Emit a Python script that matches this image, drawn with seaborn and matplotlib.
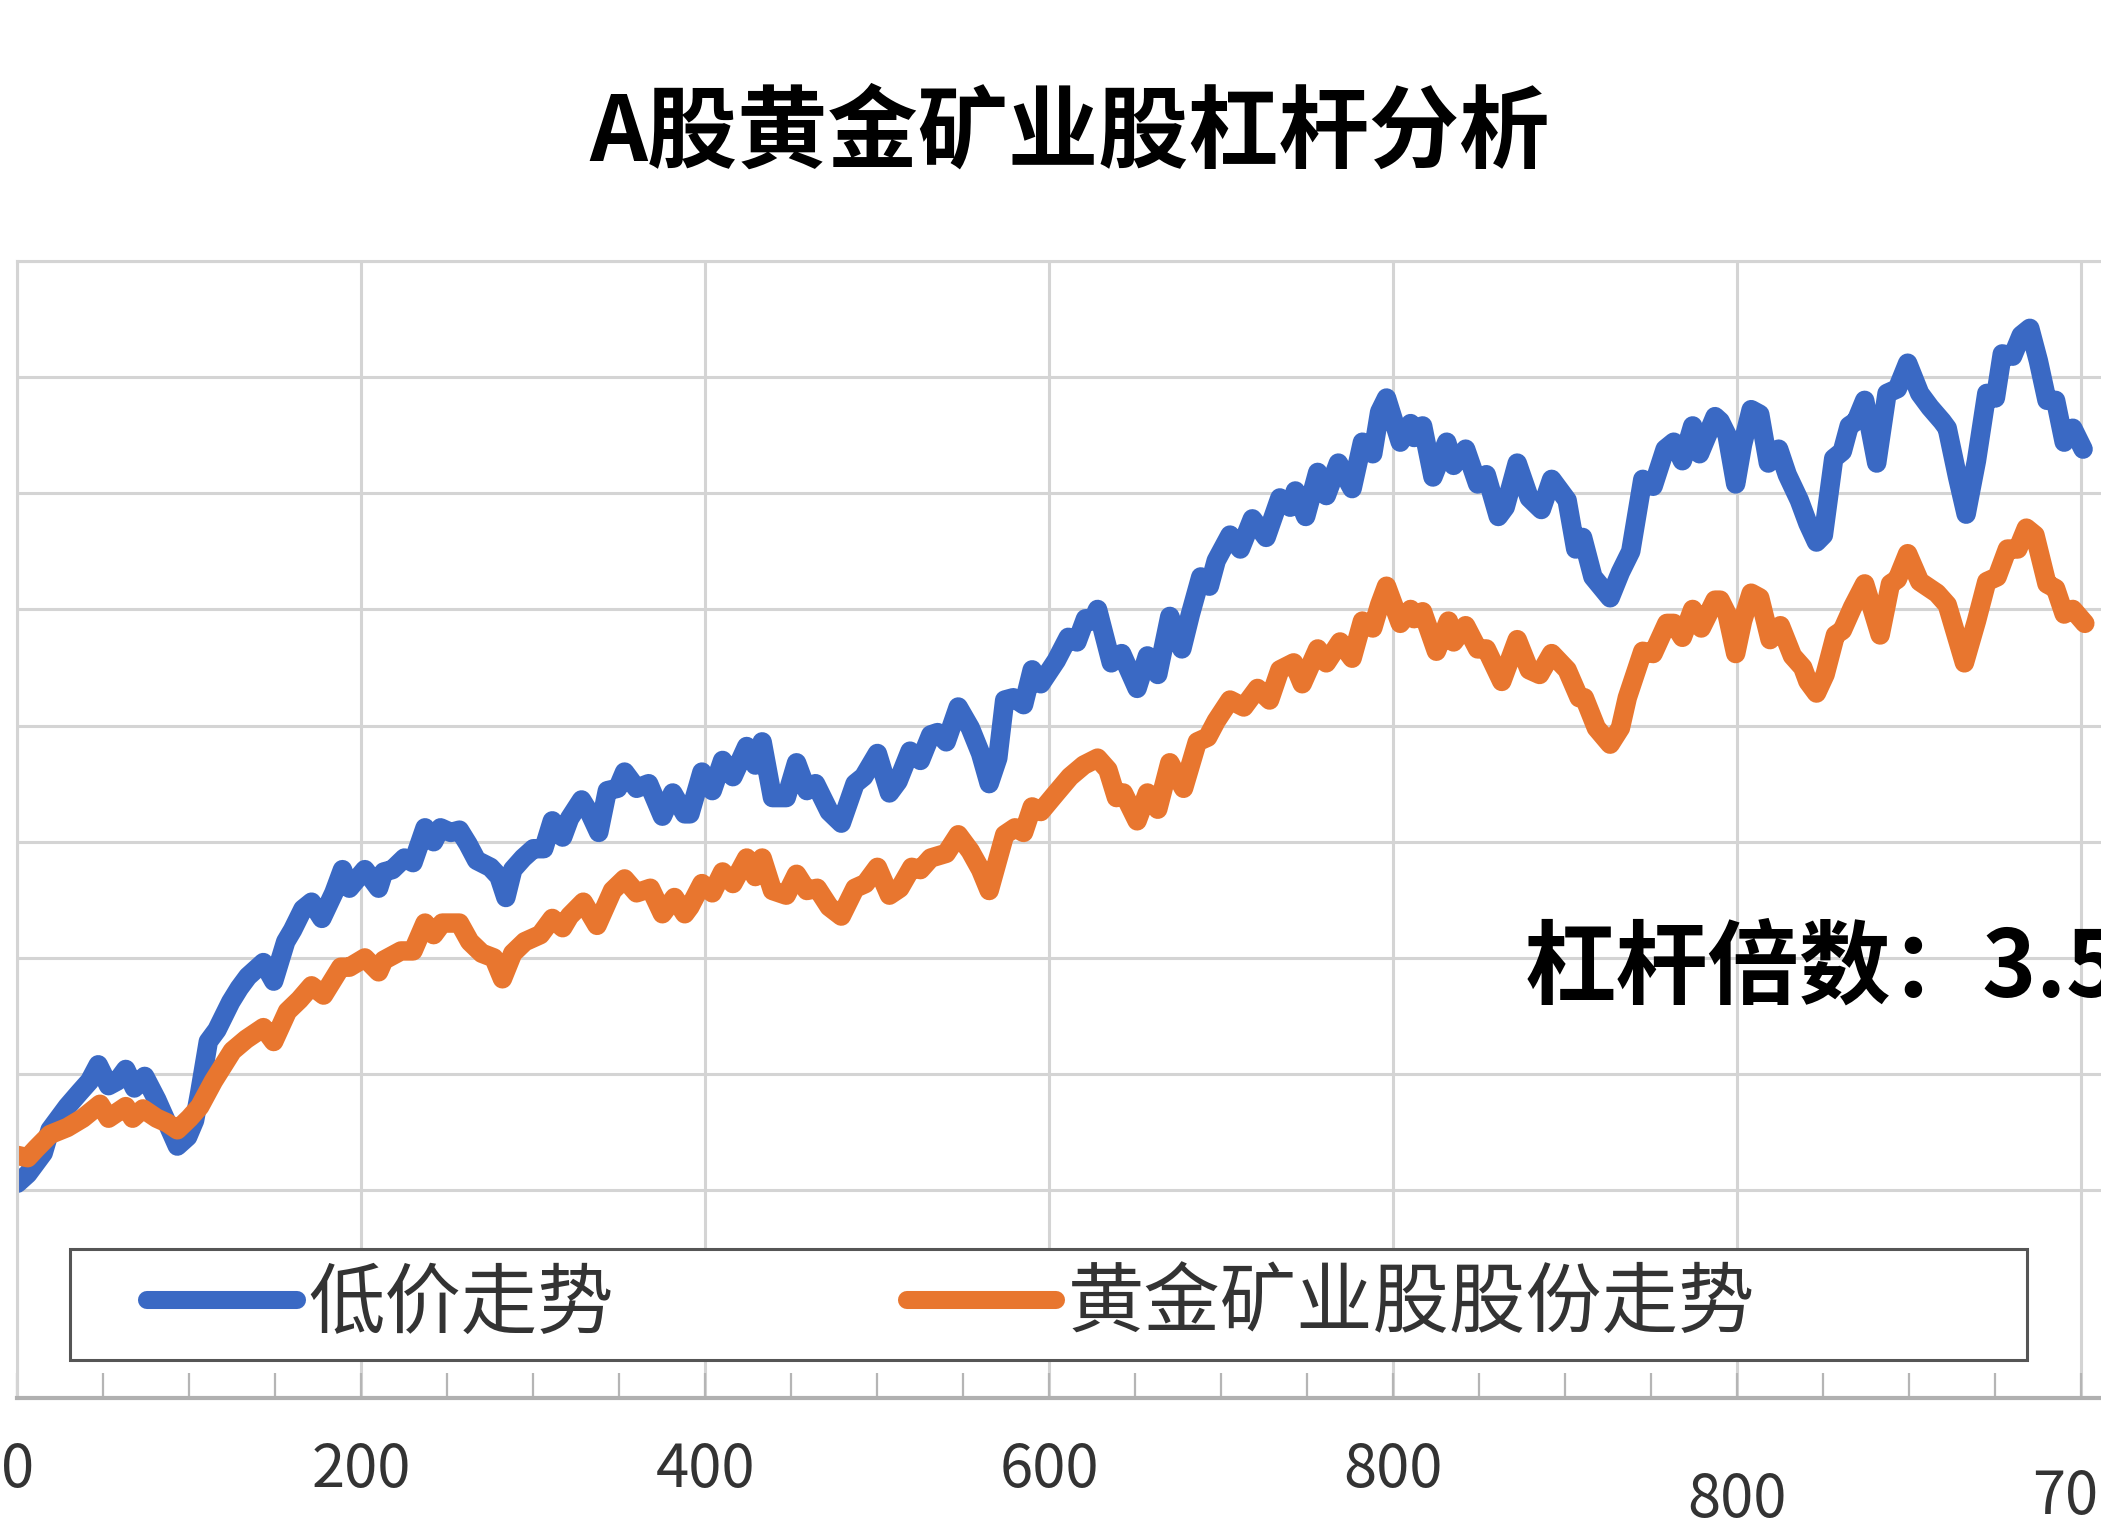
import pandas as pd
import numpy as np
import matplotlib.pyplot as plt
from matplotlib.patches import Rectangle
import seaborn as sns

# ---- data ----
days_low = [0, 6, 9, 15, 19, 29, 36, 42, 47, 53, 58, 63, 68, 74, 81, 87, 93, 99, 103, 106,
            111, 116, 124, 129, 134, 143, 149, 156, 160, 166, 171, 177, 184, 189,
            193, 202, 210, 213, 218, 225, 230, 237, 242, 246, 252, 257, 262, 267, 275, 280,
            284, 288, 294, 300, 306, 311, 317, 321, 328, 333, 338, 343, 349, 353, 360, 367,
            375, 381, 388,
            391, 398, 404, 410, 416, 424, 429, 433, 439, 447, 453, 459, 464, 472, 479, 487,
            492, 500, 507, 512, 519, 525, 531, 535, 540, 547, 554, 560, 565, 570, 574, 579,
            585, 590,
            595, 604, 611, 616, 621, 625, 628, 636, 642, 651, 657, 663, 670, 677, 682, 688,
            693, 697, 705, 711, 718, 726, 734, 740, 743, 749, 756, 761, 768, 776, 782, 788,
            792, 796, 804, 810, 812, 817, 823, 831, 835, 842, 849, 854, 861, 865, 872, 879,
            886, 892, 901, 906, 910, 916, 926, 932, 938, 945, 951, 958, 963, 968, 974, 978,
            987,
            990, 994, 999, 1003, 1008, 1013, 1018, 1024, 1029, 1036, 1041, 1046, 1050, 1056,
            1061, 1065, 1069, 1074, 1081, 1087, 1093, 1099, 1106, 1112, 1119, 1122, 1128,
            1133, 1139, 1145, 1150, 1154, 1160, 1165, 1170, 1175, 1180, 1185, 1190, 1195, 1201]
price_low = [1.03, 1.07, 1.10, 1.16, 1.26, 1.36, 1.42, 1.47, 1.54, 1.45, 1.47, 1.52, 1.44,
             1.49, 1.39, 1.29, 1.19, 1.23, 1.30, 1.42, 1.64, 1.69, 1.81, 1.87, 1.92, 1.98,
             1.90, 2.07, 2.12, 2.21, 2.24, 2.17, 2.28, 2.38,
             2.30, 2.38, 2.30, 2.37, 2.38, 2.43, 2.41, 2.56, 2.50, 2.56, 2.54, 2.55, 2.49,
             2.42, 2.39, 2.35, 2.26, 2.38, 2.43, 2.47, 2.47, 2.59, 2.52, 2.60, 2.68, 2.62,
             2.54, 2.72, 2.73, 2.80, 2.73, 2.75, 2.61, 2.71, 2.62,
             2.62, 2.80, 2.72, 2.85, 2.78, 2.91, 2.83, 2.93, 2.69, 2.69, 2.84, 2.72, 2.75,
             2.63, 2.58, 2.75, 2.78, 2.88, 2.71, 2.76, 2.89, 2.85, 2.96, 2.97, 2.93, 3.08,
             2.99, 2.88, 2.75, 2.86, 3.11, 3.12, 3.09, 3.24,
             3.18, 3.28, 3.38, 3.36, 3.46, 3.45, 3.50, 3.27, 3.31, 3.16, 3.30, 3.22, 3.47,
             3.33, 3.48, 3.64, 3.60, 3.71, 3.82, 3.76, 3.89, 3.81, 3.98, 3.94, 4.01, 3.90,
             4.09, 3.99, 4.13, 4.02, 4.22, 4.17,
             4.35, 4.41, 4.22, 4.30, 4.24, 4.29, 4.07, 4.22, 4.12, 4.19, 4.04, 4.08, 3.90,
             3.94, 4.13, 3.98, 3.93, 4.06, 3.97, 3.76, 3.81, 3.64, 3.55, 3.66, 3.75, 4.06,
             4.03, 4.19, 4.22, 4.14, 4.29, 4.17, 4.33,
             4.31, 4.25, 4.04, 4.21, 4.36, 4.34, 4.13, 4.19, 4.08, 3.97, 3.87, 3.79, 3.82,
             4.15, 4.18, 4.29, 4.31, 4.40, 4.13, 4.43, 4.45, 4.56, 4.43, 4.37, 4.31, 4.28,
             4.07, 3.91, 4.14, 4.43, 4.41, 4.60, 4.59, 4.68, 4.71, 4.57, 4.40, 4.40, 4.22,
             4.28, 4.19]

days_gold = [0, 6, 11, 19, 29, 38, 48, 53, 63, 67, 73, 81, 87, 93, 100, 106, 114, 125, 133,
             143, 149, 157, 164, 171, 178, 188,
             193, 202, 210, 213, 223, 230, 237, 242, 247, 257, 263, 270, 277, 282, 288, 295,
             304, 311, 317, 321, 329, 337, 346, 353, 360, 368, 375, 382, 388,
             391, 398, 404, 410, 416, 424, 429, 433, 439, 447, 453, 459, 465, 472, 479, 487,
             493, 500, 507, 513, 520, 525, 531, 540, 547, 554, 560, 565, 574, 580, 585, 590,
             595, 604, 612, 620, 628, 634, 639, 643, 651, 657, 663, 670, 678, 686, 692, 697,
             705, 713, 721, 728, 734, 742, 747, 756, 761, 769, 776, 782, 788,
             792, 796, 804, 810, 812, 817, 825, 832, 835, 842, 849, 854, 863, 872, 879, 885,
             892, 901, 908, 911, 918, 926, 932, 936, 945, 951, 959, 963, 968, 974, 979, 987,
             990, 994, 999, 1003, 1008, 1013, 1019, 1025, 1032, 1038, 1041, 1046, 1051,
             1057, 1061, 1067, 1074, 1083, 1089, 1093, 1099, 1106, 1116, 1122, 1132, 1139,
             1145, 1151, 1157, 1163, 1168, 1173, 1180, 1185, 1190, 1195, 1202]
price_gold = [1.15, 1.14, 1.18, 1.24, 1.27, 1.31, 1.37, 1.31, 1.36, 1.31, 1.35, 1.31, 1.29,
              1.26, 1.31, 1.36, 1.47, 1.60, 1.65, 1.70, 1.64, 1.77, 1.82, 1.88, 1.84, 1.96,
              1.96, 2.00, 1.94, 1.99, 2.03, 2.03, 2.15, 2.10, 2.15, 2.15, 2.07, 2.02, 2.00,
              1.91, 2.02, 2.07, 2.10, 2.17, 2.13, 2.18, 2.24, 2.14, 2.29, 2.34, 2.28, 2.30,
              2.19, 2.26, 2.19,
              2.22, 2.32, 2.28, 2.37, 2.32, 2.43, 2.35, 2.43, 2.29, 2.27, 2.36, 2.29, 2.30,
              2.22, 2.18, 2.30, 2.32, 2.39, 2.27, 2.30, 2.39, 2.38, 2.43, 2.45, 2.53, 2.46,
              2.38, 2.29, 2.53, 2.56, 2.54, 2.65,
              2.63, 2.71, 2.78, 2.83, 2.86, 2.81, 2.69, 2.71, 2.59, 2.71, 2.64, 2.84, 2.73,
              2.93, 2.95, 3.02, 3.11, 3.08, 3.16, 3.11, 3.24, 3.27, 3.18, 3.33, 3.27, 3.36,
              3.29, 3.45, 3.42,
              3.52, 3.60, 3.44, 3.50, 3.46, 3.49, 3.32, 3.45, 3.36, 3.43, 3.33, 3.33, 3.19,
              3.37, 3.24, 3.22, 3.31, 3.24, 3.12, 3.12, 2.99, 2.92, 2.99, 3.12, 3.32, 3.31,
              3.44, 3.44, 3.38, 3.50, 3.42, 3.54,
              3.54, 3.48, 3.31, 3.45, 3.57, 3.55, 3.37, 3.43, 3.30, 3.25, 3.19, 3.14, 3.22,
              3.39, 3.41, 3.51, 3.61, 3.39, 3.61, 3.63, 3.74, 3.62, 3.57, 3.52, 3.27, 3.45,
              3.62, 3.64, 3.76, 3.76, 3.85, 3.82, 3.61, 3.59, 3.48, 3.50, 3.44]

series_names = ["低价走势", "黄金矿业股股份走势"]
series_colors = ["#3a69c4", "#e8762f"]

xtick_pos = [0, 200, 400, 600, 800, 1000, 1200]
xtick_text = ["0", "200", "400", "600", "800", "800", "700"]
xtick_row = [-0.064, -0.064, -0.064, -0.064, -0.064, -0.090, -0.088]

title = "A股黄金矿业股杠杆分析"
note = "杠杆倍数：3.5"

# ---- styling ----
sns.set_theme(style="white")
plt.rcParams["font.family"] = ["Noto Sans CJK SC", "DejaVu Sans"]

fig = plt.figure(figsize=(21.01, 15.35), dpi=100)
ax = fig.add_axes([17.4 / 2101, 0.0893, 1 - 17.4 / 2101, 0.7407])

df_low = pd.DataFrame({"day": days_low, "price": price_low})
df_gold = pd.DataFrame({"day": days_gold, "price": price_gold})

for df, name, col in zip([df_low, df_gold], series_names, series_colors):
    sns.lineplot(data=df, x="day", y="price", ax=ax, color=col,
                 label=name, estimator=None, sort=False)

# thick rounded strokes like the source
for ln in ax.lines:
    ln.set_linewidth(14)
    ln.set_solid_capstyle("round")
    ln.set_solid_joinstyle("round")

ax.set_xlim(0, 1211.4)
ax.set_ylim(0.106, 5.0)
ax.set_xlabel("")
ax.set_ylabel("")

ax.set_xticks(xtick_pos)
ax.set_xticks(np.arange(0, 1201, 50), minor=True)
ax.set_yticks(np.arange(1.0, 5.01, 0.5))
ax.tick_params(axis="x", which="both", direction="in", length=18, width=1.6,
               color="#b5b5b5", labelbottom=False, bottom=True)
ax.tick_params(axis="y", left=False, labelleft=False)
ax.grid(True, color="#d4d4d4", lw=2.2)
ax.set_axisbelow(True)

for side in ["left", "top"]:
    ax.spines[side].set_color("#d4d4d4")
    ax.spines[side].set_linewidth(2.2)
ax.spines["right"].set_visible(False)
ax.spines["bottom"].set_color("#b0b0b0")
ax.spines["bottom"].set_linewidth(3)

# tick labels placed by hand (two rows, as in the source)
for pos, txt, row in zip(xtick_pos, xtick_text, xtick_row):
    ax.text(pos, row, txt, transform=ax.get_xaxis_transform(), ha="center",
            va="center", fontsize=43, color="#333333")

# legend with its own frame
ax.add_patch(Rectangle((0.0254, 0.0334), 0.9391, 0.0976, transform=ax.transAxes,
                       facecolor="white", edgecolor="#555555", lw=2.2, zorder=4))
leg = ax.legend(loc="center left", bbox_to_anchor=(0.0624, 0.0820), ncol=2,
                frameon=False, fontsize=55, handlelength=1.96, handletextpad=0.15,
                columnspacing=3.83, borderpad=0, borderaxespad=0)
leg.set_zorder(5)
for t in leg.get_texts():
    t.set_color("#333333")
for h in leg.get_lines():
    h.set_linewidth(13)
    h.set_solid_capstyle("round")

ax.text(876, 1.95, note, ha="left", va="center", fontsize=66, fontweight="bold",
        color="black", zorder=6)

fig.text(0.509, 0.913, title, ha="center", va="center", fontsize=65,
         fontweight="heavy", color="black")

fig.savefig("out.png", dpi=100)
